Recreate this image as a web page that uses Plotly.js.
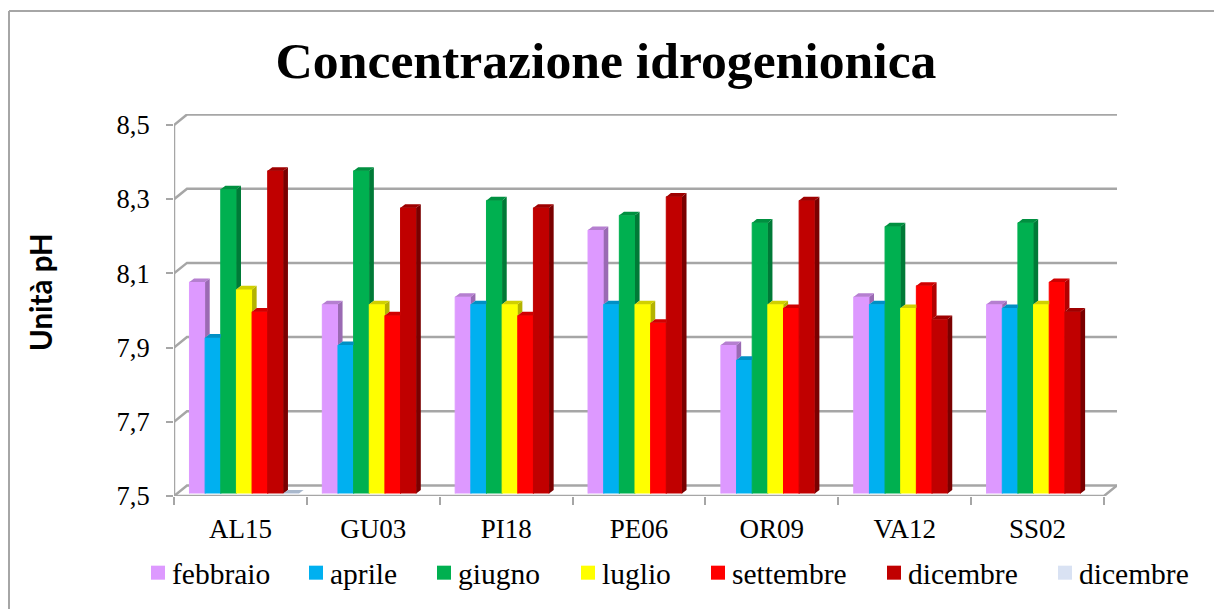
<!DOCTYPE html>
<html>
<head>
<meta charset="utf-8">
<script src="https://cdn.plot.ly/plotly-3.0.1.min.js"></script>
<style>html,body{margin:0;padding:0;background:#fff}</style>
</head>
<body>
<div id="chart" style="width:1214px;height:609px"></div>
<script>
const stations = ["AL15","GU03","PI18","PE06","OR09","VA12","SS02"];
const febbraio  = [8.07,8.01,8.03,8.21,7.90,8.03,8.01];
const aprile    = [7.92,7.90,8.01,8.01,7.86,8.01,8.00];
const giugno    = [8.32,8.37,8.29,8.25,8.23,8.22,8.23];
const luglio    = [8.05,8.01,8.01,8.01,8.01,8.00,8.01];
const settembre = [7.99,7.98,7.98,7.96,8.00,8.06,8.07];
const dicembre  = [8.37,8.27,8.27,8.30,8.29,7.97,7.99];
const dicembre2 = [7.5,null,null,null,null,null,null];
const yTicks = [7.5,7.7,7.9,8.1,8.3,8.5];

const seriesNames = ["febbraio","aprile","giugno","luglio","settembre","dicembre","dicembre"];
const seriesValues = [febbraio,aprile,giugno,luglio,settembre,dicembre,dicembre2];
const frontColors = ["#DD99FF","#00B0F0","#00B050","#FFFF00","#FF0000","#C00000","#D9E2F3"];
const topColors   = ["#B57FD0","#0090C5","#009040","#D0D000","#D00000","#9E0000","#A9B8CC"];
const sideColors  = ["#9A6AB3","#007AA8","#007A37","#B3B300","#B20000","#7A0000","#97A4B5"];
const legendX = [132,290,418,562,692,868,1039];

const W = 1214, H = 609;
const L = 174, R = 1117, T = 114, B = 496;
const pxPerCat = 132.86, pxPerVal = 371;
const plotW = R - L, plotH = B - T;
const wallDx = 13 / pxPerCat, wallDy = 10.5 / pxPerVal;
const xMin = -0.5, xEnd = 6.5, yMin = 7.5, yEnd = 8.5;
const barShiftX = 3.8, barShiftY = 2.5;
const barDx = 4.6 / pxPerCat, barDy = 3.6 / pxPerVal;
const bargap = 0.1755, groupW = 1 - bargap, barW = groupW / 7;
const gray = "#A6A6A6";

const catIdx = stations.map((_, i) => i);
const traces = [];

// chart frame: wall grid, left-side diagonals, floor edges
const fx = [], fy = [];
yTicks.forEach(t => {
  fx.push(xMin, xMin + wallDx, xEnd + wallDx, null);
  fy.push(t, t + wallDy, t + wallDy, null);
});
fx.push(xMin, xMin, null, xMin, xEnd, xEnd + wallDx);
fy.push(yMin, yEnd, null, yMin, yMin, yMin + wallDy);
traces.push({type:"scatter",mode:"lines",x:fx,y:fy,xaxis:"x",yaxis:"y",cliponaxis:false,
  line:{color:gray,width:2.5},hoverinfo:"skip",showlegend:false});
traces.push({type:"scatter",mode:"lines",x:[0],y:[yMin],xaxis:"x3",yaxis:"y",hoverinfo:"skip",showlegend:false,line:{width:0}});

// front faces
seriesValues.forEach((vals,s) => {
  traces.push({type:"bar",name:seriesNames[s],x:catIdx,y:vals,xaxis:"x2",yaxis:"y2",
    marker:{color:frontColors[s],line:{color:frontColors[s],width:1}},
    legend:s===0?"legend":"legend"+(s+1),showlegend:true});
});

// side and top faces derived from the values
seriesValues.forEach((vals,s) => {
  const tx=[],ty=[],sx=[],sy=[];
  vals.forEach((v,c) => {
    if (v===null) return;
    const xl = c - groupW/2 + s*barW, xr = xl + barW;
    const nextRaw = s+1<seriesValues.length ? seriesValues[s+1][c] : null;
    const next = nextRaw===null ? yMin : nextRaw;
    const tipX = next>=v && nextRaw!==null ? xr : xr+barDx;
    tx.push(xl,xl+barDx,tipX,xr,xl,null);
    ty.push(v,v+barDy,v+barDy,v,v,null);
    if (next<v) {
      sx.push(xr,xr+barDx,xr+barDx,xr,xr,null);
      sy.push(v,v+barDy,next+barDy,next,v,null);
    }
  });
  traces.push({type:"scatter",mode:"lines",x:sx,y:sy,xaxis:"x2",yaxis:"y2",fill:"toself",
    fillcolor:sideColors[s],line:{width:0,color:sideColors[s]},hoverinfo:"skip",showlegend:false});
  traces.push({type:"scatter",mode:"lines",x:tx,y:ty,xaxis:"x2",yaxis:"y2",fill:"toself",
    fillcolor:topColors[s],line:{width:0,color:topColors[s]},hoverinfo:"skip",showlegend:false});
});

const serif = "Liberation Serif, serif";
const layout = {
  width:W,height:H,paper_bgcolor:"#fff",plot_bgcolor:"rgba(0,0,0,0)",
  margin:{l:L,r:W-R,t:T,b:H-B,pad:0,autoexpand:false},
  separators:",.",
  barmode:"group",bargap:bargap,bargroupgap:0,
  font:{family:serif,color:"#000"},
  title:{text:"<b>Concentrazione idrogenionica</b>",font:{family:serif,size:51.7,color:"#000"},
    x:606/W,xanchor:"center",xref:"container",y:1-60/H,yanchor:"middle",yref:"container"},
  xaxis:{domain:[0,1],range:[xMin,xEnd+wallDx],tickvals:catIdx,ticktext:stations,ticks:"",
    showgrid:false,zeroline:false,showline:false,tickfont:{family:serif,size:27,color:"#000"},
    ticklabelstandoff:14},
  xaxis3:{overlaying:"x",range:[xMin,xEnd+wallDx],anchor:"y",
    tickvals:[-0.5,0.5,1.5,2.5,3.5,4.5,5.5,6.5],ticks:"outside",ticklen:8,tickwidth:2,tickcolor:gray,
    showticklabels:false,showgrid:false,zeroline:false,showline:false},
  yaxis:{domain:[0,1],range:[yMin,yMin+plotH/pxPerVal],tickvals:yTicks,tickformat:".1f",
    ticks:"outside",ticklen:7,tickwidth:2,tickcolor:gray,showgrid:false,zeroline:false,showline:false,
    tickfont:{family:serif,size:26.5,color:"#000"},ticklabelstandoff:11},
  xaxis2:{anchor:"y2",domain:[barShiftX/plotW,1],
    range:[xMin,xMin+(plotW-barShiftX)/pxPerCat],visible:false},
  yaxis2:{anchor:"x2",domain:[barShiftY/plotH,1],
    range:[yMin,yMin+(plotH-barShiftY)/pxPerVal],visible:false},
  annotations:[{text:"<b>Unità pH</b>",xref:"paper",yref:"paper",x:(40-L)/plotW,y:(B-292)/plotH,
    xanchor:"center",yanchor:"middle",textangle:-90,showarrow:false,
    font:{family:"Lato, sans-serif",size:29.5,color:"#000"}}],
  shapes:[
    {type:"line",xref:"paper",yref:"paper",x0:(9-L)/plotW,x1:(9-L)/plotW,y0:(B-11)/plotH,y1:(B-H)/plotH,
     line:{color:gray,width:2},layer:"below"},
    {type:"line",xref:"paper",yref:"paper",x0:(9-L)/plotW,x1:(W-L)/plotW,y0:(B-11)/plotH,y1:(B-11)/plotH,
     line:{color:gray,width:2},layer:"below"}]
};

legendX.forEach((px,s) => {
  layout[s===0?"legend":"legend"+(s+1)] = {
    x:(px-L)/plotW,xanchor:"left",y:(B-573)/plotH,yanchor:"middle",orientation:"h",
    bgcolor:"rgba(0,0,0,0)",borderwidth:0,itemwidth:30,itemclick:false,itemdoubleclick:false,
    font:{family:serif,size:29.5,color:"#000"}
  };
});

Plotly.newPlot("chart",traces,layout,{displayModeBar:false,responsive:false}).then(gd => {
  gd.querySelectorAll(".legendpoints path").forEach(p => {
    p.setAttribute("d","M7,7H-7V-7H7Z");
    p.setAttribute("transform","translate(26,0)");
    p.style.strokeWidth = "0";
  });
});
</script>
</body>
</html>
